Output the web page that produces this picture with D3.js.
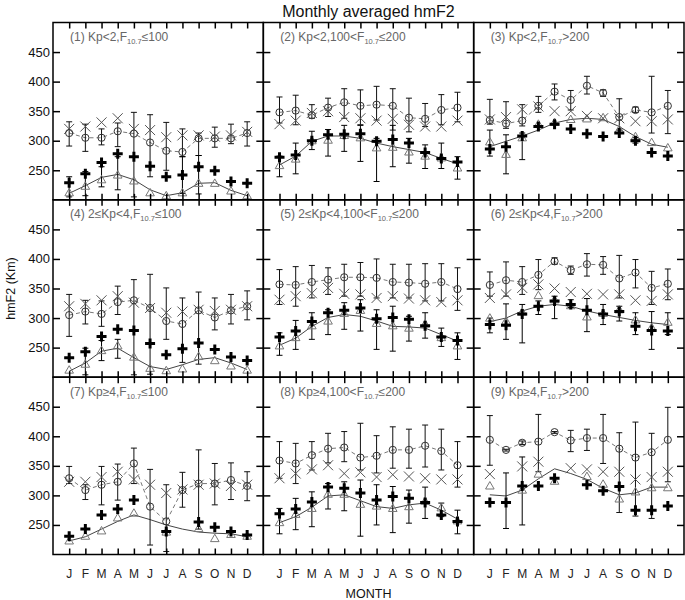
<!DOCTYPE html>
<html><head><meta charset="utf-8">
<script src="https://cdn.jsdelivr.net/npm/d3@7"></script>
<style>
body{margin:0;background:#fff}
text{font-family:"Liberation Sans",Arial,Helvetica,sans-serif}
</style>
</head><body>
<svg id="c" width="685" height="600"></svg>
<script>
const months = ["J","F","M","A","M","J","J","A","S","O","N","D"];
const yTicks = [250,300,350,400,450];
const title = "Monthly averaged hmF2";
const xTitle = "MONTH";
const yTitle = "hmF2 (Km)";
const labelPre = ["(1) Kp<2,F","(2) Kp<2,100<F","(3) Kp<2,F","(4) 2\u2264Kp<4,F","(5) 2\u2264Kp<4,100<F","(6) 2\u2264Kp<4,F","(7) Kp\u22654,F","(8) Kp\u22654,100<F","(9) Kp\u22654,F"];
const labelSub = "10.7";
const labelPost = ["\u2264100","\u2264200",">200","\u2264100","\u2264200",">200","\u2264100","\u2264200",">200"];

// open circles (with dashed line) and their error bars
const circle = [
 [313,305,305,316,312,297,283,281,304,304,304,313],
 [348,351,343,356,365,359,361,359,339,337,352,356],
 [335,329,334,359,383,369,393,381,340,352,348,359],
 [305,311,307,327,330,317,295,290,313,301,313,320],
 [357,356,361,365,369,369,368,361,360,358,361,349],
 [356,364,361,373,396,381,391,390,367,377,351,358],
 [329,309,318,323,354,281,256,309,320,320,326,316],
 [359,354,368,379,381,364,367,377,377,384,375,351],
 [394,377,389,391,407,393,397,397,379,364,373,394]
];
const circleHi = [
 [332,328,320,330,348,344,331,320,313,323,328,332],
 [374,377,361,372,388,386,392,388,372,363,378,382],
 [370,366,361,375,396,385,409,386,371,357,409,385],
 [340,330,329,354,365,374,351,334,344,334,340,346],
 [382,387,389,385,391,394,400,391,391,392,392,385],
 [378,395,387,399,402,388,409,404,406,399,379,383],
 [349,318,349,353,380,344,318,339,377,354,355,340],
 [391,388,391,405,408,422,401,416,412,419,412,391],
 [435,378,392,437,408,410,412,437,406,424,405,449]
];
const circleLo = [
 [291,282,293,290,205,239,250,273,275,289,295,291],
 [330,327,338,341,338,327,335,318,315,324,327,332],
 [328,321,325,348,369,352,379,375,318,348,313,312],
 [269,290,286,306,204,205,264,225,222,280,290,297],
 [323,320,334,340,337,337,334,334,334,329,329,313],
 [337,337,340,348,391,374,371,374,334,351,323,331],
 [320,293,284,292,320,216,205,280,243,284,293,291],
 [329,320,343,355,357,343,338,346,346,348,343,314],
 [351,375,386,340,405,374,376,354,271,265,261,323]
];
// crosses
const cross = [
 [320,324,331,338,320,318,306,309,309,307,309,315],
 [328,334,347,350,340,338,334,337,327,324,324,334],
 [336,340,353,358,350,350,342,338,338,333,333,336],
 [320,324,330,337,326,317,309,311,314,312,314,320],
 [331,337,342,351,341,340,334,337,333,330,327,330],
 [334,340,351,357,350,344,341,340,340,330,329,340],
 [323,323,331,340,327,318,304,310,318,320,316,318],
 [329,337,344,351,337,339,331,335,332,329,327,327],
 [336,null,349,357,null,346,344,340,340,327,331,340]
];
// bold pluses and their error bars
const plus = [
 [229,244,263,278,273,257,239,242,256,249,231,228],
 [272,276,300,310,311,312,299,302,296,280,270,264],
 [286,290,308,324,328,320,312,307,313,300,280,274],
 [233,243,269,281,279,257,238,248,258,247,234,228],
 [268,278,294,309,313,317,299,301,298,287,268,262],
 [289,288,307,320,329,323,313,307,311,286,279,278],
 [231,243,267,277,292,null,239,null,255,246,239,233],
 [269,277,289,314,312,304,292,298,295,288,267,256],
 [288,288,316,316,329,null,318,308,315,275,275,282]
];
const plusHi = [
 [239,248,256,273,null,null,null,273,275,null,null,null],
 [274,296,316,319,326,326,304,326,304,293,296,273],
 [318,310,313,null,null,null,null,null,null,305,null,null],
 [null,249,262,264,null,null,null,null,null,null,null,null],
 [275,296,309,314,326,331,314,320,303,309,283,275],
 [300,324,323,329,337,331,333,323,320,309,311,309],
 [null,null,null,null,null,null,null,null,null,null,null,null],
 [278,295,306,320,323,326,318,315,309,314,287,275],
 [null,338,365,null,null,null,null,null,null,null,null,null]
];
const plusLo = [
 [205,207,222,217,null,null,null,211,210,null,null,null],
 [239,244,285,274,282,265,231,256,262,253,253,235],
 [274,244,268,null,null,null,null,null,null,296,null,null],
 [null,204,228,232,null,null,null,null,null,null,null,null],
 [237,247,264,272,281,278,247,244,261,266,252,230],
 [275,264,258,306,299,318,277,289,295,272,247,272],
 [null,null,null,null,null,null,null,null,null,null,null,null],
 [235,242,247,277,274,231,250,237,253,261,264,235],
 [null,244,250,null,null,null,null,null,null,null,null,null]
];
// open triangles
const triangle = [
 [211,222,233,241,231,211,206,211,227,227,214,206],
 [257,268,299,300,308,304,287,288,280,273,270,253],
 [297,276,304,327,330,335,336,338,318,306,296,287],
 [211,221,244,252,233,214,210,213,234,227,218,211],
 [252,266,286,294,307,312,290,286,282,289,266,252],
 [299,294,309,337,330,320,301,307,313,296,283,292],
 [222,230,239,261,269,null,237,null,243,226,233,230],
 [253,267,277,301,301,284,281,277,280,289,278,256],
 [315,null,308,335,323,null,331,318,293,305,312,312]
];
// solid model curve
const model = [
 [211,224,238,243,234,217,207,212,228,229,216,207],
 [259,274,299,308,308,304,296,290,285,280,270,261],
 [290,299,308,318,330,336,338,336,324,307,294,289],
 [210,224,244,249,233,218,213,221,230,233,224,213],
 [254,266,286,301,306,303,295,286,285,283,272,261],
 [294,300,312,320,323,320,312,306,301,296,292,289],
 [223,230,243,256,267,259,250,243,238,236,235,230],
 [254,264,280,299,301,291,281,278,284,287,275,260],
 [301,299,309,328,345,337,327,312,301,304,314,314]
];

const svg = d3.select("#c");
const L = 53, R = 684, T = 22.5, B = 554.5;
const pw = (R - L) / 3, ph = (B - T) / 3;
const idx = d3.range(12);

svg.append("text").attr("x",(L+R)/2).attr("y",17).attr("text-anchor","middle")
  .attr("font-size",16).attr("fill","#111").text(title);
svg.append("text").attr("x",(L+R)/2).attr("y",598).attr("text-anchor","middle")
  .attr("font-size",12.5).attr("fill","#111").text(xTitle);
svg.append("text").attr("transform",`translate(15,${(T+B)/2}) rotate(-90)`).attr("text-anchor","middle")
  .attr("font-size",12.5).attr("fill","#111").text(yTitle);

for (let p = 0; p < 9; p++) {
  const col = p % 3, row = Math.floor(p / 3);
  const x0 = L + col * pw, y0 = T + row * ph;
  const x = d3.scaleLinear().domain([0,13]).range([x0, x0 + pw]);
  const y = d3.scaleLinear().domain([200,500]).range([y0 + ph, y0]);
  const g = svg.append("g");

  // panel label
  const t = g.append("text").attr("x", x0 + 17).attr("y", y0 + 18.5)
    .attr("font-size", 12).attr("fill", "#666");
  t.append("tspan").text(labelPre[p]);
  t.append("tspan").attr("font-size", 7.5).attr("dy", 3).text(labelSub);
  t.append("tspan").attr("dy", -3).text(labelPost[p]);

  // model line
  g.append("path").datum(idx)
    .attr("d", d3.line().defined(i => model[p][i] != null).x(i => x(i+1)).y(i => y(model[p][i])))
    .attr("fill","none").attr("stroke","#444").attr("stroke-width",1);
  // dashed circle line
  g.append("path").datum(idx)
    .attr("d", d3.line().defined(i => circle[p][i] != null).x(i => x(i+1)).y(i => y(circle[p][i])))
    .attr("fill","none").attr("stroke","#777").attr("stroke-width",1).attr("stroke-dasharray","4,3");

  // error bars
  function bars(lo, hi, color) {
    const d = idx.filter(i => lo[p][i] != null && hi[p][i] != null);
    const eg = g.append("g").attr("stroke", color).attr("stroke-width", 1).attr("fill","none");
    eg.selectAll("path").data(d).join("path")
      .attr("d", i => {
        const xx = x(i+1), a = y(hi[p][i]), b = y(lo[p][i]);
        return `M${xx},${a}V${b}M${xx-3},${a}H${xx+3}M${xx-3},${b}H${xx+3}`;
      });
  }
  bars(circleLo, circleHi, "#111");
  bars(plusLo, plusHi, "#000");

  // triangles
  g.selectAll(".tri").data(idx.filter(i => triangle[p][i] != null)).join("path")
    .attr("transform", i => `translate(${x(i+1)},${y(triangle[p][i])})`)
    .attr("d", d3.symbol(d3.symbolTriangle, 32))
    .attr("fill","none").attr("stroke","#777").attr("stroke-width",1);
  // crosses
  g.selectAll(".crs").data(idx.filter(i => cross[p][i] != null)).join("path")
    .attr("transform", i => `translate(${x(i+1)},${y(cross[p][i])})`)
    .attr("d","M-5,-5L5,5M-5,5L5,-5")
    .attr("fill","none").attr("stroke","#555").attr("stroke-width",1);
  // circles
  g.selectAll(".cir").data(idx.filter(i => circle[p][i] != null)).join("circle")
    .attr("cx", i => x(i+1)).attr("cy", i => y(circle[p][i])).attr("r", 3.6)
    .attr("fill","none").attr("stroke","#333").attr("stroke-width",1);
  // pluses
  g.selectAll(".pls").data(idx.filter(i => plus[p][i] != null)).join("path")
    .attr("transform", i => `translate(${x(i+1)},${y(plus[p][i])})`)
    .attr("d","M-5,0H5M0,-5V5")
    .attr("fill","none").attr("stroke","#000").attr("stroke-width",3);

  // axes (inward ticks)
  const tick = a => { a.select(".domain").remove(); a.selectAll("line").attr("stroke","#000").attr("stroke-width",1.5); };
  g.append("g").attr("transform",`translate(0,${y0+ph})`)
    .call(d3.axisBottom(x).tickValues(d3.range(1,13)).tickSize(-6).tickFormat("")).call(tick);
  g.append("g").attr("transform",`translate(0,${y0})`)
    .call(d3.axisTop(x).tickValues(d3.range(1,13)).tickSize(-6).tickFormat("")).call(tick);
  g.append("g").attr("transform",`translate(${x0},0)`)
    .call(d3.axisLeft(y).tickValues(yTicks).tickSize(-7).tickFormat("")).call(tick);
  g.append("g").attr("transform",`translate(${x0+pw},0)`)
    .call(d3.axisRight(y).tickValues(yTicks).tickSize(-7).tickFormat("")).call(tick);

  g.append("rect").attr("x",x0).attr("y",y0).attr("width",pw).attr("height",ph)
    .attr("fill","none").attr("stroke","#000").attr("stroke-width",1.5);

  if (col === 0) {
    g.selectAll(".yl").data(yTicks).join("text")
      .attr("x", x0 - 3).attr("y", v => y(v) + 4.5).attr("text-anchor","end")
      .attr("font-size",13).attr("fill","#111").text(v => v);
  }
  if (row === 2) {
    g.selectAll(".ml").data(idx).join("text")
      .attr("x", i => x(i+1)).attr("y", 578).attr("text-anchor","middle")
      .attr("font-size",12).attr("fill","#222").text(i => months[i]);
  }
}
</script>
</body></html>
